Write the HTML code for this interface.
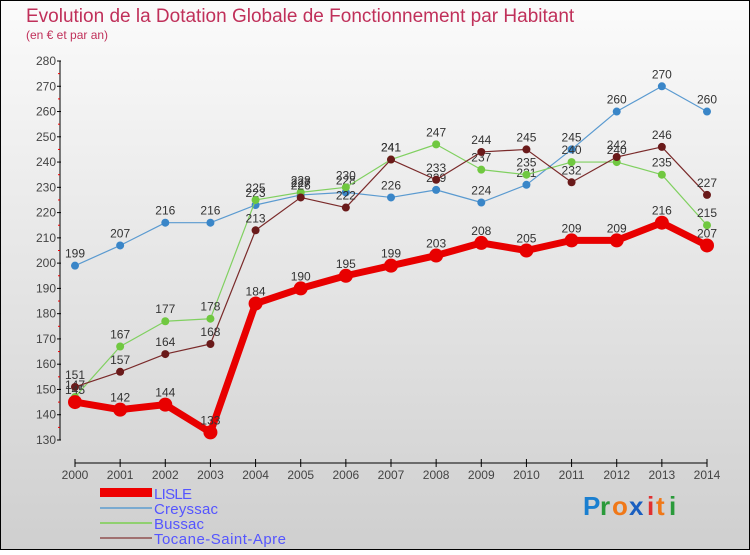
<!DOCTYPE html>
<html><head><meta charset="utf-8"><style>
body{margin:0;}
#c{width:750px;height:550px;position:relative;font-family:"Liberation Sans",sans-serif;}
</style></head><body>
<div id="c">
<svg id="s" width="750" height="550" xmlns="http://www.w3.org/2000/svg">
<defs><linearGradient id="bg" x1="0" y1="0" x2="0" y2="1"><stop offset="0" stop-color="#fbfbfb"/><stop offset="1" stop-color="#cfcfcf"/></linearGradient></defs>
<rect x="0.5" y="0.5" width="749" height="549" fill="url(#bg)" stroke="#000"/>
<text x="26" y="22" font-size="19" fill="#c0305a">Evolution de la Dotation Globale de Fonctionnement par Habitant</text>
<text x="26" y="39" font-size="12" fill="#c0305a">(en € et par an)</text>
<g id="axes"></g><g id="series"></g>
<g>
<rect x="100" y="488" width="52" height="9" fill="#e00"/>
<text x="154" y="499" font-size="15" fill="#55f" textLength="38">LISLE</text>
<line x1="100" y1="508" x2="152" y2="508" stroke="#7aaad0" stroke-width="2"/>
<text x="154" y="514" font-size="15" fill="#55f" textLength="64">Creyssac</text>
<line x1="100" y1="523" x2="152" y2="523" stroke="#90d070" stroke-width="2"/>
<text x="154" y="529" font-size="15" fill="#55f" textLength="50">Bussac</text>
<line x1="100" y1="538" x2="152" y2="538" stroke="#a07070" stroke-width="2"/>
<text x="154" y="544" font-size="15" fill="#55f" textLength="132">Tocane-Saint-Apre</text>
</g>
<g font-size="26" font-weight="bold">
<text x="583" y="515" fill="#1a7fd0">P</text><text x="600" y="515" fill="#2a9a3a">r</text><text x="612" y="515" fill="#f07818">o</text><text x="629" y="515" fill="#1a5fc0">x</text><text x="647" y="515" fill="#e03030">i</text><text x="656" y="515" fill="#f07818">t</text><text x="669" y="515" fill="#2a9a3a">i</text>
</g>
</svg></div>
<script>
const years=[2000,2001,2002,2003,2004,2005,2006,2007,2008,2009,2010,2011,2012,2013,2014];
const yTicks=[130,140,150,160,170,180,190,200,210,220,230,240,250,260,270,280];
const lisle=[145,142,144,133,184,190,195,199,203,208,205,209,209,216,207];
const creyssac=[199,207,216,216,223,227,228,226,229,224,231,245,260,270,260];
const bussac=[147,167,177,178,225,228,230,241,247,237,235,240,240,235,215];
const tocane=[151,157,164,168,213,226,222,241,233,244,245,232,242,246,227];
const NS="http://www.w3.org/2000/svg";
const x=i=>75+i*(632/14);
const y=v=>440-(v-130)*(379/150);
function mk(t,a,p){const e=document.createElementNS(NS,t);for(const k in a)e.setAttribute(k,a[k]);p.appendChild(e);return e;}
const ax=document.getElementById('axes');
let e=mk('line',{x1:60,y1:61,x2:60,y2:440,stroke:'#000'},ax);


e=mk('line',{x1:75,y1:463,x2:707,y2:463,stroke:'#000'},ax);


yTicks.forEach(v=>{
  mk('line',{x1:57,y1:y(v),x2:61,y2:y(v),stroke:'#000'},ax);
  if(v<280) mk('line',{x1:58,y1:y(v+5),x2:60,y2:y(v+5),stroke:'#e00'},ax);
  const t=mk('text',{x:56,y:y(v)+4,'font-size':12,fill:'#444','text-anchor':'end'},ax);
  t.textContent=v;
  
  
});
years.forEach((yr,i)=>{
  mk('line',{x1:x(i),y1:459,x2:x(i),y2:467,stroke:'#000'},ax);
  const t=mk('text',{x:x(i),y:479,'font-size':12,fill:'#444','text-anchor':'middle'},ax);
  t.textContent=yr;
  
  
});
const sg=document.getElementById('series');
function series(data,name,lc,pc,w,r,fs){
  const g=mk('g',{},sg);
  
  
  const l=mk('polyline',{points:data.map((v,i)=>x(i)+','+y(v)).join(' '),fill:'none',stroke:lc,'stroke-width':w,'stroke-linejoin':'round'},g);
  
  
  data.forEach((v,i)=>{
    const c=mk('circle',{cx:x(i),cy:y(v),r:r,fill:pc},g);
    
    
    const t=mk('text',{x:x(i),y:y(v)-8,'font-size':fs,fill:'#333','text-anchor':'middle'},g);
    t.textContent=v;
    
    
  });
}
series(creyssac,'creyssac','#5a9ad0','#3a86c8',1.2,4,12);
series(bussac,'bussac','#80d060','#70c840',1.2,4,12);
series(tocane,'tocane','#7a2a2a','#6a1a1a',1.2,4,12);
series(lisle,'lisle','#e80000','#e80000',7,7,12);
</script>
</body></html>
